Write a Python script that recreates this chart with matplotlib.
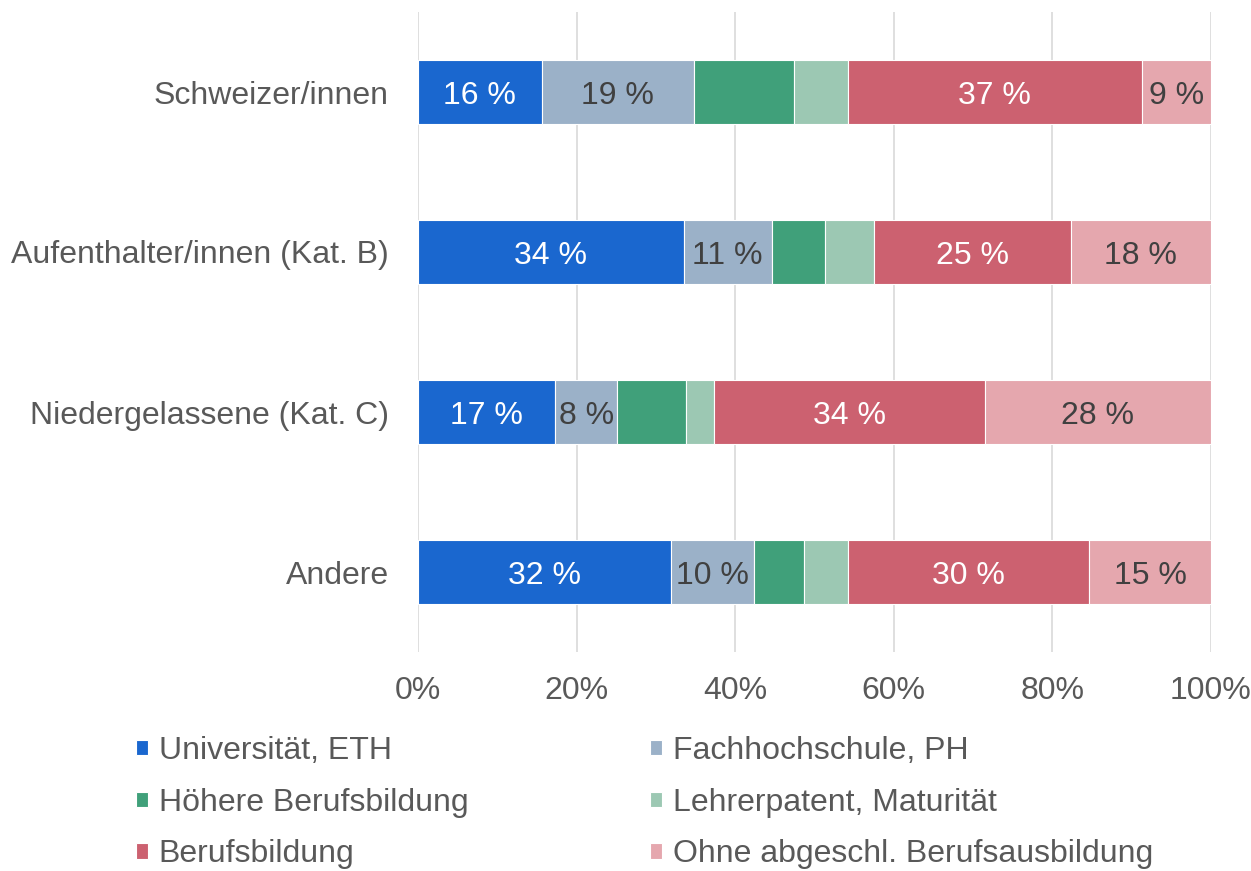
import matplotlib
matplotlib.use('Agg')
import matplotlib.pyplot as plt
import numpy as np

plt.rcParams['font.family'] = ['Liberation Sans', 'DejaVu Sans']

groups = ['Schweizer/innen', 'Aufenthalter/innen (Kat. B)',
          'Niedergelassene (Kat. C)', 'Andere']
series = ['Universität, ETH', 'Fachhochschule, PH', 'Höhere Berufsbildung',
          'Lehrerpatent, Maturität', 'Berufsbildung',
          'Ohne abgeschl. Berufsausbildung']
values = np.array([
    [15.6, 19.2, 12.6, 6.8, 37.1, 8.7],
    [33.5, 11.1, 6.7, 6.2, 24.8, 17.7],
    [17.3, 7.8, 8.7, 3.5, 34.2, 28.5],
    [31.9, 10.5, 6.3, 5.5, 30.4, 15.4],
])
show_label = [True, True, False, False, True, True]

colors = ['#1a67cf', '#9bb1c8', '#40a07a', '#9cc8b3', '#cc6170', '#e5a7ae']
label_colors = ['white', '#404040', None, None, 'white', '#404040']
TXT = '#595959'
FS = 23

fig = plt.figure(figsize=(12.51, 8.71), dpi=100)
ax = fig.add_axes([418 / 1251, 1 - 652 / 871, 793 / 1251, 640 / 871])

y = np.arange(len(groups))
left = np.zeros(len(groups))
handles = []
for i, name in enumerate(series):
    b = ax.barh(y, values[:, i], left=left, height=0.4, color=colors[i],
                edgecolor='white', linewidth=0.8, label=name, zorder=3)
    handles.append(b)
    if show_label[i]:
        for j in range(len(groups)):
            ax.annotate(f'{values[j, i]:.0f} %', (left[j] + values[j, i] / 2, y[j]),
                        xytext=(0, -8.3), textcoords='offset points',
                        ha='center', va='baseline', fontsize=FS,
                        color=label_colors[i], zorder=4)
    left += values[:, i]

ax.set_xlim(0, 100)
ax.set_ylim(3.5, -0.5)
ax.set_yticks(y)
ax.set_yticklabels(groups, fontsize=FS, color=TXT)
ax.set_xticks(np.arange(0, 101, 20))
ax.set_xticklabels([f'{t}%' for t in range(0, 101, 20)], fontsize=FS, color=TXT)
ax.tick_params(axis='both', length=0)
ax.tick_params(axis='y', pad=21)
ax.tick_params(axis='x', pad=17)
ax.grid(axis='x', color='#d9d9d9', lw=1.2, zorder=0)
for s in ax.spines.values():
    s.set_visible(False)

order = [0, 2, 4, 1, 3, 5]
leg = fig.legend([handles[k] for k in order], [series[k] for k in order],
                 ncol=2, loc='upper left', bbox_to_anchor=(136 / 1251, 1 - 736 / 871),
                 frameon=False, fontsize=FS, handlelength=0.36, handleheight=0.36,
                 handletextpad=0.35, columnspacing=5.7, labelspacing=0.68,
                 borderaxespad=0, borderpad=0)
for t in leg.get_texts():
    t.set_color(TXT)

fig.savefig('out.png', dpi=100)
